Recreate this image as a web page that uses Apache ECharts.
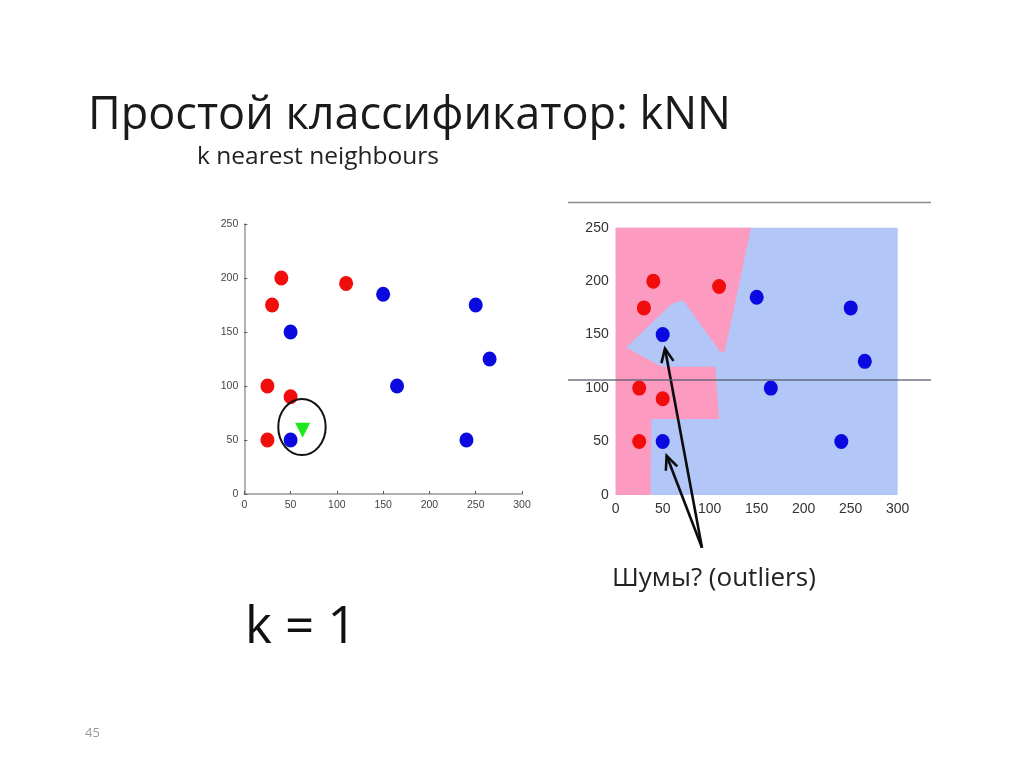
<!DOCTYPE html>
<html><head><meta charset="utf-8">
<style>html,body{margin:0;padding:0;background:#fff}#c{width:1024px;height:767px}</style>
<script src="https://cdn.jsdelivr.net/npm/echarts@6/dist/echarts.min.js"></script>
</head><body><div id="c"></div>
<script>
const redPoints = [[40,200],[110,195],[30,175],[25,100],[50,90],[25,50]];
const bluePoints = [[150,185],[250,175],[50,150],[265,125],[165,100],[50,50],[240,50]];
const queryPoint = [[63,59]];
const neighbourCircle = [[62.3,62,25.6,26]];
const pinkRegion = [[0,0],[37,0],[38,71],[110,71],[106,120],[49,120],[11,138],[60,179],[72,182],[111,134],[116,134],[144,250],[0,250]];
const arrows = [[[91.8,-49.4],[52.4,137]],[[91.8,-49.4],[54.2,36.7]]];
const xTicks = {min:0,max:300,interval:50};
const yTicks = {min:0,max:250,interval:50};
const FONT = '"Open Sans"';
const NARROW = '"Liberation Sans"';

function axis(t, g, big, showLine){
  return {type:'value',gridIndex:g,min:t.min,max:t.max,interval:t.interval,splitLine:{show:false},
    axisLine:{show:showLine,onZero:false,lineStyle:{color:'#999',width:1.5}},
    axisTick:{show:showLine,inside:true,length:3,lineStyle:{color:'#555'}},
    axisLabel:{color:big?'#333':'#444',fontFamily:NARROW,fontSize:big?14:10.5,margin:big?7:6,showMinLabel:true,showMaxLabel:true}};
}
const dot = (name,data,color,g)=>({name,type:'scatter',data,xAxisIndex:g,yAxisIndex:g,symbol:'circle',symbolSize:[14,15],itemStyle:{color,opacity:1},z:5,silent:true});
const option = {
  animation:false,backgroundColor:'#fff',
  grid:[
    {left:244.3,width:277.7,top:224,height:270},
    {left:615.7,width:282,top:227.7,height:267.3,show:true,backgroundColor:'#b2c6f8',borderWidth:0}
  ],
  xAxis:[axis(xTicks,0,false,true),axis(xTicks,1,true,false)],
  yAxis:[axis(yTicks,0,false,true),axis(yTicks,1,true,false)],
  series:[
    {type:'custom',xAxisIndex:1,yAxisIndex:1,data:[[0,0]],z:2,silent:true,clip:false,
     renderItem:(p,api)=>({type:'polygon',shape:{points:pinkRegion.map(q=>api.coord(q))},style:{fill:'#fd9abf'}})},
    dot('red',redPoints,'#f20d0d',0),
    dot('blue',bluePoints,'#0a0ae0',0),
    dot('red',redPoints,'#f20d0d',1),
    dot('blue',bluePoints,'#0a0ae0',1),
    {name:'query',type:'scatter',data:queryPoint,xAxisIndex:0,yAxisIndex:0,symbol:'triangle',symbolRotate:180,symbolSize:[15,15],itemStyle:{color:'#1ee81e',opacity:1},z:6,silent:true},
    {type:'custom',xAxisIndex:0,yAxisIndex:0,data:neighbourCircle,z:7,silent:true,
     renderItem:(p,api)=>{const c=api.coord([api.value(0),api.value(1)]);const s=api.size([api.value(2),api.value(3)]);
       return {type:'ellipse',shape:{cx:c[0],cy:c[1],rx:s[0],ry:s[1]},style:{fill:'none',stroke:'#111',lineWidth:2}};}},
    {type:'custom',xAxisIndex:1,yAxisIndex:1,data:[[0],[1]],z:8,silent:true,clip:false,
     renderItem:(p,api)=>{const a=arrows[p.dataIndex];const s=api.coord(a[0]),e=api.coord(a[1]);
       const ang=Math.atan2(s[1]-e[1],s[0]-e[0]);const L=15,W=0.42;
       const h1=[e[0]+L*Math.cos(ang+W),e[1]+L*Math.sin(ang+W)],h2=[e[0]+L*Math.cos(ang-W),e[1]+L*Math.sin(ang-W)];
       const st={fill:'none',stroke:'#0c0c0c',lineWidth:2.6};
       return {type:'group',children:[
         {type:'line',shape:{x1:s[0],y1:s[1],x2:e[0],y2:e[1]},style:st},
         {type:'polyline',shape:{points:[h1,e,h2]},style:st}]};}}
  ],
  graphic:[
    {type:'line',z:50,shape:{x1:568,y1:202.5,x2:931,y2:202.5},style:{stroke:'#8a8a8a',lineWidth:1.5}},
    {type:'line',z:50,shape:{x1:568,y1:380,x2:931,y2:380},style:{stroke:'#555c6c',lineWidth:1.5,opacity:.85}},
    {type:'text',z:50,x:88,y:116,style:{text:'Простой классификатор: kNN',fontFamily:FONT,fontSize:45,fill:'#1a1a1a',textVerticalAlign:'middle'}},
    {type:'text',z:50,x:197,y:157,style:{text:'k nearest neighbours',fontFamily:FONT,fontSize:24.5,fill:'#222',textVerticalAlign:'middle'}},
    {type:'text',z:50,x:612,y:579,style:{text:'Шумы? (outliers)',fontFamily:FONT,fontSize:26,fill:'#222',textVerticalAlign:'middle'}},
    {type:'text',z:50,x:245,y:628,style:{text:'k = 1',fontFamily:FONT,fontSize:51,fill:'#111',textVerticalAlign:'middle'}},
    {type:'text',z:50,x:85,y:733,style:{text:'45',fontFamily:FONT,fontSize:13,fill:'#999',textVerticalAlign:'middle'}}
  ]
};
echarts.init(document.getElementById('c')).setOption(option);
</script></body></html>
